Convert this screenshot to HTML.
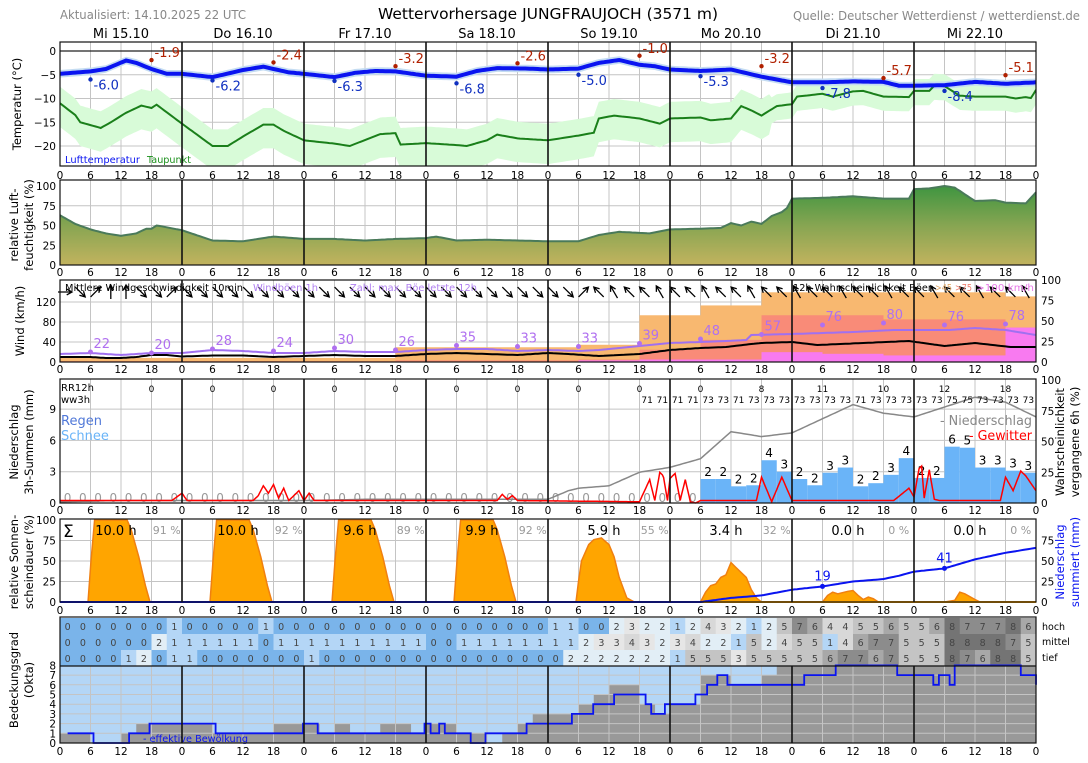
<!DOCTYPE html>
<html><head><meta charset="utf-8"><style>
html,body{margin:0;padding:0;background:#fff;width:1088px;height:763px;overflow:hidden}
svg{display:block}
text{font-family:"DejaVu Sans","Liberation Sans",sans-serif}
</style></head><body>
<svg id="s" width="1088" height="763" xmlns="http://www.w3.org/2000/svg"></svg>
<script>
const W=976/192, X=h=>60+h*W;
const o=[];
function ip(kp,h){if(h<=kp[0][0])return kp[0][1];for(let i=1;i<kp.length;i++){if(h<=kp[i][0]){const a=kp[i-1],b=kp[i];return a[1]+(b[1]-a[1])*(h-a[0])/(b[0]-a[0]);}}return kp[kp.length-1][1];}
function pts(kp,fy,h0=0,h1=192,st=0.5){let p=[];for(let h=h0;h<=h1+1e-9;h+=st)p.push(X(h).toFixed(1)+','+fy(ip(kp,h)).toFixed(1));return p;}
function L(x1,y1,x2,y2,c,w){o.push(`<line x1="${x1}" y1="${y1}" x2="${x2}" y2="${y2}" stroke="${c}" stroke-width="${w||1}"/>`);}
function T(x,y,s,a){a=a||{};o.push(`<text x="${x}" y="${y}" font-size="${a.fs||10.5}" fill="${a.c||'#000'}" text-anchor="${a.an||'start'}"${a.tl?' textLength="'+a.tl+'" lengthAdjust="spacingAndGlyphs"':''}${a.tr?' transform="'+a.tr+'"':''}>${s}</text>`);}
function R(x,y,w,h,c){o.push(`<rect x="${x}" y="${y}" width="${w}" height="${h}" fill="${c}"/>`);}
function clip(id,t,b){o.push(`<clipPath id="${id}"><rect x="60" y="${t}" width="976" height="${b-t}"/></clipPath>`);}
function grid(t,b,ys){ys.forEach(y=>L(60,y,1036,y,'#c4c4c4',1));for(let h=6;h<192;h+=6){if(h%24)L(X(h),t,X(h),b,'#c4c4c4',1);}}
function frame(t,b){for(let d=1;d<8;d++)L(X(d*24),t,X(d*24),b,'#111',1.6);o.push(`<rect x="60" y="${t}" width="976" height="${b-t}" fill="none" stroke="#111" stroke-width="1.2"/>`);}
function hours(y){for(let h=0;h<=192;h+=6)T(X(h),y,String(h%24),{an:'middle'});}
// header
T(60,19,'Aktualisiert: 14.10.2025 22 UTC',{fs:12,c:'#888',tl:186});
T(548,19,'Wettervorhersage JUNGFRAUJOCH (3571 m)',{fs:15,an:'middle',tl:340});
T(1080,20,'Quelle: Deutscher Wetterdienst / wetterdienst.de',{fs:12,c:'#888',an:'end',tl:287});
['Mi 15.10','Do 16.10','Fr 17.10','Sa 18.10','So 19.10','Mo 20.10','Di 21.10','Mi 22.10'].forEach((s,i)=>T(X(i*24+12),38,s,{fs:13,an:'middle'}));
// ===== Temperature
const ty=v=>51-v*4.75;
clip('c1',42,166);
grid(42,166,[-5,-10,-15,-20].map(ty));
const tK=[[0,-4.8],[6,-4.3],[9,-3.8],[13,-2.0],[15,-2.5],[18,-3.8],[21,-4.8],[24,-4.8],[30,-5.5],[36,-4],[40,-3.3],[45,-4.5],[48,-4.8],[54,-5.5],[58,-4.6],[62,-4.2],[66,-4.3],[72,-5.2],[78,-5.4],[82,-4.2],[86,-3.6],[92,-3.7],[96,-3.9],[102,-3.7],[106,-2.5],[110,-1.9],[114,-2.9],[117,-3.2],[120,-3.9],[126,-4.2],[132,-3.9],[138,-5.4],[144,-6.6],[150,-6.6],[156,-6.4],[162,-6.5],[165,-7.3],[168,-7.3],[174,-7.2],[180,-6.5],[186,-6.9],[192,-6.6]];
const dK=[[0,-11],[3,-13.5],[4,-15],[8,-16.2],[10,-15],[13,-13],[16,-11.5],[18,-12],[19,-11.3],[24,-15.3],[30,-20],[33,-20],[36,-18],[40,-15.5],[42,-15.5],[44,-16.8],[48,-18.8],[54,-19.5],[57,-20],[63,-17.5],[66,-17.3],[67,-19.7],[72,-19.4],[78,-19.8],[80,-20],[84,-18.8],[86,-17.6],[90,-18.4],[96,-18.8],[102,-17.8],[105,-17.2],[106,-14.2],[109,-13.6],[114,-14.2],[118,-15.3],[120,-14.2],[126,-14],[128,-14.6],[132,-14.2],[134,-11.6],[136,-12.5],[138,-13.6],[141,-11.6],[144,-11.2],[145,-9.6],[150,-9],[152,-9.6],[156,-8.5],[158,-8.4],[162,-9.6],[167,-9.7],[168,-8.4],[171,-8.4],[172,-7.3],[174,-7.4],[177,-9.4],[180,-9.6],[186,-9.6],[188,-10],[190,-9.7],[191,-9.9],[192,-8.2]];
const up=h=>h<140?3.5:2.5, dn=h=>h<140?5:3;
{let a=[],b=[];for(let h=0;h<=192;h+=0.5){a.push(X(h).toFixed(1)+','+ty(ip(dK,h)+up(h)).toFixed(1));b.unshift(X(h).toFixed(1)+','+ty(ip(dK,h)-dn(h)).toFixed(1));}
o.push(`<polygon clip-path="url(#c1)" points="${a.concat(b).join(' ')}" fill="#d8fbd8"/>`);
a=[];b=[];for(let h=0;h<=192;h+=0.5){a.push(X(h).toFixed(1)+','+ty(ip(tK,h)+0.8).toFixed(1));b.unshift(X(h).toFixed(1)+','+ty(ip(tK,h)-0.8).toFixed(1));}
o.push(`<polygon points="${a.concat(b).join(' ')}" fill="#c4dcf2"/>`);}
L(60,ty(0),1036,ty(0),'#222',1.2);
o.push(`<polyline clip-path="url(#c1)" points="${pts(dK,ty).join(' ')}" fill="none" stroke="#1a7f1a" stroke-width="2"/>`);
o.push(`<polyline points="${pts(tK,ty).join(' ')}" fill="none" stroke="#0a14f0" stroke-width="4"/>`);
const mins=[-6.0,-6.2,-6.3,-6.8,-5.0,-5.3,-7.8,-8.4],maxs=[-1.9,-2.4,-3.2,-2.6,-1.0,-3.2,-5.7,-5.1];
mins.forEach((v,i)=>{const x=X(i*24+6),y=ty(v);o.push(`<circle cx="${x}" cy="${y}" r="2.2" fill="#1030c0"/>`);T(x+3,y+10,v.toFixed(1),{fs:13,c:'#1030c0'});});
maxs.forEach((v,i)=>{const x=X(i*24+18),y=ty(v);o.push(`<circle cx="${x}" cy="${y}" r="2.2" fill="#b02000"/>`);T(x+3,y-3,v.toFixed(1),{fs:13,c:'#b02000'});});
T(65,163,'Lufttemperatur',{fs:10,c:'#0a14f0',tl:75});T(147,163,'Taupunkt',{fs:10,c:'#1a8f1a',tl:44});
frame(42,166);
[0,-5,-10,-15,-20].forEach(v=>T(56,ty(v)+4,String(v).replace('-','−'),{an:'end'}));
hours(179);
T(0,0,'Temperatur (°C)',{fs:11.5,an:'middle',tr:'translate(21,104) rotate(-90)'});
// ===== Humidity
const hy=v=>265-v*0.79;
grid(180,265,[25,50,75].map(hy));
o.push(`<linearGradient id="gh" gradientUnits="userSpaceOnUse" x1="0" y1="186" x2="0" y2="265"><stop offset="0" stop-color="#3f9540"/><stop offset="0.5" stop-color="#87a552"/><stop offset="1" stop-color="#c2b35e"/></linearGradient>`);
const hK=[[0,63],[3,52],[6,45],[9,40],[12,37],[15,40],[17,46],[18,46],[19,50],[20,49],[24,44],[30,31],[36,30],[42,36],[48,33],[54,33],[60,31],[66,33],[72,34],[74,36],[78,31],[84,32],[90,31],[96,30],[102,30],[106,38],[110,42],[116,40],[120,45],[126,46],[130,47],[132,53],[134,50],[136,55],[138,52],[140,62],[142,67],[143,72],[144,84],[150,85],[156,87],[160,85],[162,84],[167,84],[168,96],[171,97],[174,100],[176,98],[180,81],[184,82],[186,79],[190,78],[192,92]];
{const p=pts(hK,hy);o.push(`<polygon points="60,265 ${p.join(' ')} 1036,265" fill="url(#gh)"/>`);o.push(`<polyline points="${p.join(' ')}" fill="none" stroke="#4a7a5a" stroke-width="2"/>`);}
frame(180,265);
[0,25,50,75,100].forEach(v=>T(56,hy(v)+4,v,{an:'end'}));
hours(276);
T(0,0,'relative Luft-',{fs:11.5,an:'middle',tr:'translate(18,225) rotate(-90)'});
T(0,0,'feuchtigkeit (%)',{fs:11.5,an:'middle',tr:'translate(33,225) rotate(-90)'});
// ===== Wind
const wy=v=>362-v*0.5, wp=p=>362-p*0.82;
grid(280,362,[40,80,120].map(wy));
const blocks=[[0,66,5,1,0],[66,78,18,2,0],[78,90,18,2,0],[90,102,18,2,0],[102,114,21,3,2],[114,126,57,15,3],[126,138,69,27,3],[138,150,85,57,12],[150,162,85,57,10],[162,174,85,52,8],[174,186,85,52,8],[186,192,80,42,42]];
blocks.forEach(b=>{const x=X(b[0]),w=X(b[1])-x;R(x,wp(b[2]),w,362-wp(b[2]),'#f8b870');R(x,wp(b[3]),w,362-wp(b[3]),'#f98b78');if(b[4])R(x,wp(b[4]),w,362-wp(b[4]),'#f87af0');});
const mK=[[0,10],[6,10],[9,8],[12,8],[15,10],[18,14],[21,14],[24,11],[30,13],[36,13],[42,10],[48,12],[54,14],[60,12],[66,12],[72,16],[78,18],[84,16],[90,14],[96,18],[100,16],[106,12],[110,14],[114,16],[117,20],[120,24],[126,28],[131,30],[136,36],[138,38],[144,40],[149,34],[158,38],[167,42],[174,32],[180,38],[187,30],[192,30]];
const gK=[[0,16],[6,18],[12,14],[18,18],[24,18],[30,24],[36,22],[42,18],[48,18],[54,22],[60,20],[66,20],[72,24],[78,26],[84,26],[90,22],[96,24],[102,22],[106,24],[114,32],[120,38],[126,40],[131,42],[135,44],[136,54],[144,56],[156,60],[164,64],[175,64],[180,68],[186,64],[192,54]];
o.push(`<polyline points="${pts(gK,wy).join(' ')}" fill="none" stroke="#a070f0" stroke-width="2"/>`);
o.push(`<polyline points="${pts(mK,wy).join(' ')}" fill="none" stroke="#000" stroke-width="2"/>`);
[22,20,28,24,30,26,35,33,33,39,48,57,76,80,76,78].forEach((v,i)=>{const x=X(6+12*i),y=wy(v)+1;o.push(`<circle cx="${x}" cy="${y}" r="2.5" fill="#b070f0"/>`);T(x+3,y-4,v,{fs:13,c:'#b070f0'});});
{const d1=[0,45,-45,-90,-90,45,45,-45],r=[45,45,-45];
for(let k=0;k<64;k++){let a;if(k<8)a=d1[k];else if(k<32)a=45;else if(k<35)a=r[k-32];else a=225+((k*37)%3===0?15:0);
const cx=X(3*k)+5,cy=292,l=7,rad=a*Math.PI/180,dx=Math.cos(rad)*l,dy=Math.sin(rad)*l;
const tx=cx+dx,ty2=cy+dy;const h1=rad+Math.PI-0.5,h2=rad+Math.PI+0.5;
o.push(`<path d="M${(cx-dx).toFixed(1)},${(cy-dy).toFixed(1)}L${tx.toFixed(1)},${ty2.toFixed(1)}M${(tx+Math.cos(h1)*6).toFixed(1)},${(ty2+Math.sin(h1)*6).toFixed(1)}L${tx.toFixed(1)},${ty2.toFixed(1)}L${(tx+Math.cos(h2)*6).toFixed(1)},${(ty2+Math.sin(h2)*6).toFixed(1)}" stroke="#000" stroke-width="1.3" fill="none"/>`);}}
T(65,291,'Mittlere Windgeschwindigkeit 10min',{fs:10,tl:178});
T(253,291,'Windböen 1h',{fs:10,c:'#b080f0',tl:65});
T(350,291,'Zahl: max. Böe letzte 12h',{fs:10,c:'#b080f0',tl:127});
T(793,291,'12h Wahrscheinlichkeit Böen',{fs:10,tl:141});
T(935,291,'>45',{fs:10,c:'#e0a868',tl:17});T(955,291,'>75',{fs:10,c:'#f08070',tl:17});T(976,291,'>100 km/h',{fs:10,c:'#e878e8',tl:58});
frame(280,362);
[0,40,80,120].forEach(v=>T(56,wy(v)+4,v,{an:'end'}));
[0,25,50,75,100].forEach(v=>T(1041,wp(v)+4,v));
hours(373);
T(0,0,'Wind (km/h)',{fs:11.5,an:'middle',tr:'translate(24,321) rotate(-90)'});
// ===== Precipitation
const py=v=>503-v*10.43, pp=p=>503-p*1.23;
grid(379,503,[3,6,9].map(py));
const bars=[2.3,2.3,1.6,1.7,4.1,3.0,2.3,1.7,2.9,3.4,1.6,1.9,2.7,4.3,2.4,2.4,5.4,5.3,3.4,3.4,3.1,2.9],blab=[2,2,2,2,4,3,2,2,3,3,2,2,3,4,2,2,6,5,3,3,3,3];
bars.forEach((v,i)=>{const x=X(126+3*i),w=X(129+3*i)-x;R(x,py(v),w,503-py(v),'#6ab4f8');T(x+w/2,py(v)-3,blab[i],{fs:12,an:'middle'});});
for(let k=0;k<42;k++)T(X(1.5+3*k),502,'0',{fs:12,c:'#999',an:'middle'});
const prK=[[0,1],[12,2],[24,2],[48,2],[60,3],[72,3],[96,3],[100,10],[102,12],[108,14],[114,25],[120,29],[126,36],[132,58],[138,54],[144,57],[156,80],[162,73],[168,70],[174,78],[180,86],[186,82],[192,70]];
o.push(`<polyline points="${pts(prK,pp).join(' ')}" fill="none" stroke="#888" stroke-width="1.5"/>`);
const thK=[[0,2],[22,2],[24,8],[25,2],[38,2],[39,6],[40,14],[41,8],[42,15],[43,4],[44,12],[45,2],[47,10],[48,2],[49,8],[50,2],[52,2],[86,2],[87,7],[88,3],[89,6],[90,2],[114,1],[116,19],[117,2],[118,25],[118.7,22],[119.5,2],[120,20],[121,24],[122,2],[123,19],[124,1],[125,0],[126,2],[137,2],[138,21],[140,1],[142,21],[144,2],[164,2],[167,12],[168,5],[169,28],[169.5,30],[170,4],[171,27],[172,3],[173,2],[185,2],[186,21],[187.5,10],[189,26],[190,22],[192,10]];
o.push(`<polyline points="${pts(thK,pp,0,192,0.25).join(' ')}" fill="none" stroke="#f00" stroke-width="1.5"/>`);
T(61,391,'RR12h',{fs:10});T(61,403,'ww3h',{fs:10});
[0,0,0,0,0,0,0,0,0,0,8,11,10,12,18].forEach((v,i)=>T(X(18+12*i),392,v,{fs:9,an:'middle'}));
[71,71,71,71,73,73,71,73,73,73,73,73,73,73,71,73,73,73,73,73,75,75,73,73,73,73].forEach((v,i)=>T(X(115.5+3*i),403,v,{fs:9,an:'middle'}));
T(61,425,'Regen',{fs:13,c:'#5078d8'});T(61,440,'Schnee',{fs:13,c:'#6ab4f8'});
T(1032,425,'- Niederschlag',{fs:13,c:'#888',an:'end',tl:92});T(1032,440,'- Gewitter',{fs:13,c:'#f00',an:'end',tl:63});
frame(379,503);
[0,3,6,9].forEach(v=>T(56,py(v)+4,v,{an:'end'}));
[0,25,50,75,100].forEach(v=>T(1041,pp(v)+4,v));
hours(514);
T(0,0,'Niederschlag',{fs:11.5,an:'middle',tr:'translate(18,442) rotate(-90)'});
T(0,0,'3h-Summen (mm)',{fs:11.5,an:'middle',tr:'translate(33,442) rotate(-90)'});
T(0,0,'Wahrscheinlichkeit',{fs:11.5,an:'middle',tr:'translate(1064,442) rotate(-90)'});
T(0,0,'vergangene 6h (%)',{fs:11.5,an:'middle',tr:'translate(1079,442) rotate(-90)'});
// ===== Sunshine
const sy=v=>602-v*0.82;
grid(519,602,[25,50,75].map(sy));
const full=[[5.5,0],[6.1,50],[6.8,100],[13.2,100],[14,88],[15.5,55],[16.8,20],[17.7,0]];
const shapes=[];for(let d=0;d<4;d++)shapes.push(full.map(p=>[p[0]+24*d,p[1]]));
shapes.push([[101.5,0],[102,25],[102.6,50],[104,70],[105,76],[106.5,78],[108,70],[109,55],[110,30],[111.5,5],[113,0]]);
shapes.push([[126,0],[127,12],[128,20],[129,22],[130,30],[131,33],[132,48],[133,42],[135,30],[136,15],[137,5],[138,0]]);
shapes.push([[150,0],[151,8],[152,12],[153,10],[155,13],[156,14],[157,8],[158,3],[159,6],[160,4],[161,0]]);
shapes.push([[174,0],[176,2],[177,12],[178,10],[180,3],[181,0]]);
shapes.forEach(s=>{const p=s.map(q=>X(q[0]).toFixed(1)+','+sy(q[1]).toFixed(1));o.push(`<polygon points="${p.join(' ')}" fill="#ffa500" stroke="#f08010" stroke-width="1.5"/>`);});
L(60,602,1036,602,'#ffa500',2);
const suK=[[0,0],[126,0],[132,5],[138,8],[144,15],[150,19],[156,25],[162,28],[165,32],[168,37],[174,41],[180,52],[186,60],[192,66]];
o.push(`<polyline points="${pts(suK,sy).join(' ')}" fill="none" stroke="#0a14f0" stroke-width="2"/>`);
[[150,19],[174,41]].forEach(q=>{const x=X(q[0]),y=sy(q[1]);o.push(`<circle cx="${x}" cy="${y}" r="2.5" fill="#0a14f0"/>`);T(x,y-6,q[1],{fs:13,c:'#0a14f0',an:'middle'});});
T(63,537,'Σ',{fs:17});
['10.0','10.0','9.6','9.9','5.9','3.4','0.0','0.0'].forEach((s,i)=>T(X(24*i+11),535,s+' h',{fs:13,an:'middle'}));
['91','92','89','92','55','32','0','0'].forEach((s,i)=>T(X(24*i+21),534,s+' %',{fs:11,c:'#999',an:'middle'}));
frame(519,602);
[0,25,50,75,100].forEach(v=>T(56,sy(v)+4,v,{an:'end'}));
[0,25,50,75].forEach(v=>T(1041,sy(v)+4,v));
hours(614);
T(0,0,'relative Sonnen-',{fs:11.5,an:'middle',tr:'translate(18,562) rotate(-90)'});
T(0,0,'scheindauer (%)',{fs:11.5,an:'middle',tr:'translate(33,562) rotate(-90)'});
T(0,0,'Niederschlag',{fs:11.5,c:'#0a14f0',an:'middle',tr:'translate(1064,562) rotate(-90)'});
T(0,0,'summiert (mm)',{fs:11.5,c:'#0a14f0',an:'middle',tr:'translate(1079,562) rotate(-90)'});
// ===== Clouds
const col=['#7ab4ea','#b4d6f6','#e2eef6','#e6e6e6','#d8d8d8','#c4c4c4','#a8a8a8','#8c8c8c','#747474'];
const hoch=[0,0,0,0,0,0,0,1, 0,0,0,0,0,1,0,0, 0,0,0,0,0,0,0,0, 0,0,0,0,0,0,0,0, 1,1,0,0,2,3,2,2, 1,2,4,3,2,1,2,5, 7,6,4,4,5,5,6,5, 5,6,8,7,7,7,8,6];
const mit=[0,0,0,0,0,0,2,1, 1,1,1,1,1,0,1,1, 1,1,1,1,1,1,1,1, 0,0,1,1,1,1,1,1, 1,1,2,3,3,4,3,2, 3,4,2,2,1,5,2,4, 5,5,1,4,6,7,7,5, 5,5,8,8,8,8,7,5];
const tief=[0,0,0,0,1,2,0,1, 1,0,0,0,0,0,0,0, 1,0,0,0,0,0,0,0, 0,0,0,0,0,0,0,0, 0,2,2,2,2,2,2,2, 1,5,5,5,3,5,5,5, 5,5,6,7,7,6,7,5, 5,5,8,7,6,8,8,5];
[[hoch,618],[mit,634],[tief,650]].forEach(([a,y])=>a.forEach((v,i)=>{const x=X(3*i),w=X(3*i+3)-x;R(x,y,w+0.3,16,col[v]);T(x+w/2,y+12,v,{fs:9.5,c:'#444',an:'middle'});}));
T(1042,630,'hoch',{fs:9.5});T(1042,645,'mittel',{fs:9.5});T(1042,661,'tief',{fs:9.5});
const oy=v=>743-v*9.7;
R(60,666,976,77,'#b4d6f6');
const tot=[1,1,0,0,1,2,2,2, 2,2,1,1,1,1,2,2, 2,1,2,1,1,2,2,1, 2,2,1,1,0,1,2,3, 3,3,4,5,6,6,4,3, 4,4,7,7,6,6,7,8, 8,8,8,8,8,8,8,8, 8,8,8,8,8,8,8,8];
tot.forEach((v,i)=>{if(v){const x=X(3*i),w=X(3*i+3)-x;R(x,oy(v),w+0.3,743-oy(v),'#999');}});
grid(666,743,[1,2,3,4,5,6,7].map(oy));
const eff=[[0,1],[6.6,0],[13.6,1],[17.6,2],[30.6,1],[47.8,2],[50.7,1],[71.7,2],[72.9,1],[74.6,2],[75.7,1],[80.8,0],[83.7,1],[91.8,2],[100.7,3],[104.9,4],[109,5],[115.2,4],[116.3,3],[119,4],[125,5],[127.3,6],[129.3,7],[131.3,6],[146.4,7],[152.6,8],[164.7,7],[171.8,6],[172.9,7],[175,6],[176,8],[189,7],[192,6]];
{let p=[];eff.forEach((q,i)=>{if(i)p.push(X(q[0]).toFixed(1)+','+oy(eff[i-1][1]).toFixed(1));p.push(X(q[0]).toFixed(1)+','+oy(q[1]).toFixed(1));});p[0]=X(1.5).toFixed(1)+','+oy(1);p.push('1036,'+oy(6));o.push(`<polyline points="${p.join(' ')}" fill="none" stroke="#0a14f0" stroke-width="1.8"/>`);}
T(143,742,'- effektive Bewölkung',{fs:10,c:'#0a14f0',tl:105});
for(let d=1;d<8;d++)L(X(d*24),666,X(d*24),743,'#111',1.6);
L(60,666,1036,666,'#111',1.2);
o.push(`<rect x="60" y="617" width="976" height="126" fill="none" stroke="#111" stroke-width="1.2"/>`);
[0,1,2,3,4,5,6,7,8].forEach(v=>T(56,oy(v)+4,v,{an:'end'}));
hours(755);
T(0,0,'Bedeckungsgrad',{fs:11.5,an:'middle',tr:'translate(18,680) rotate(-90)'});
T(0,0,'(Okta)',{fs:11.5,an:'middle',tr:'translate(33,680) rotate(-90)'});
document.getElementById('s').innerHTML=o.join('');
</script>
</body></html>
